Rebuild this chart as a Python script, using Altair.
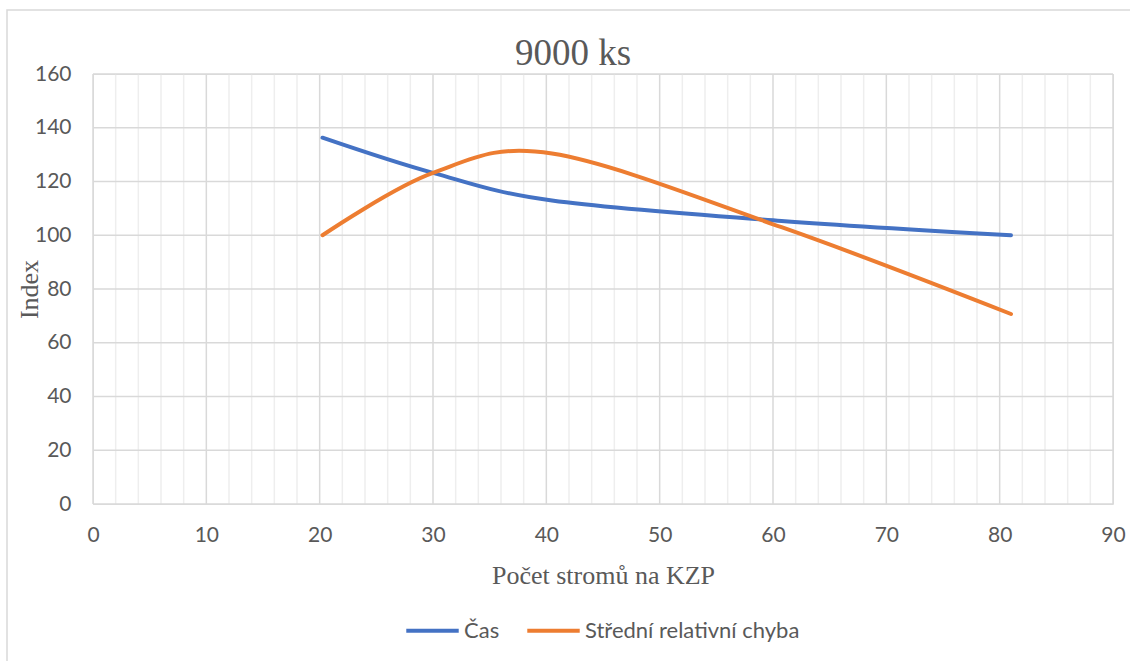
import altair as alt
import pandas as pd

# Number of trees per plot (x) and the two index series
x_trees = [20.25, 30, 40.5, 60.75, 81]
cas = [136.3, 123.2, 112.9, 105.3, 100.0]
chyba = [100.0, 123.2, 130.4, 103.0, 70.7]

series_names = ["Čas", "Střední relativní chyba"]
series_colors = ["#4472C4", "#ED7D31"]

x_major = list(range(0, 91, 10))
x_minor = [v for v in range(0, 91, 2) if v % 10 != 0]
y_major = list(range(0, 161, 20))

rows = []
for name, vals in zip(series_names, [cas, chyba]):
    for xv, yv in zip(x_trees, vals):
        rows.append({"x": xv, "y": yv, "serie": name})
df = pd.DataFrame(rows)

W, H = 1020, 430
GREY = "#595959"
SANS = "Lato"
SERIF = "Liberation Serif"

xs = alt.Scale(domain=[0, 90], nice=False, zero=False)
ys = alt.Scale(domain=[0, 160], nice=False)

x_axis = alt.Axis(
    values=x_major, grid=False, domain=False, ticks=False, tickSize=0,
    labelFlush=False, labelPadding=20, labelFont=SANS, labelFontSize=21,
    labelColor=GREY,
    title="Počet stromů na KZP", titleFont=SERIF, titleFontSize=26,
    titleFontWeight="normal", titleColor=GREY, titleX=510, titleY=79,
    titleAlign="center", titleBaseline="alphabetic",
)
y_axis = alt.Axis(
    values=y_major, grid=False, domain=False, ticks=False, tickSize=0,
    labelFlush=False, labelPadding=22, labelFont=SANS, labelFontSize=21,
    labelColor=GREY,
    title="Index", titleFont=SERIF, titleFontSize=26,
    titleFontWeight="normal", titleColor=GREY, titleX=-56, titleY=215,
    titleAlign="center", titleBaseline="alphabetic", titleAngle=270,
)

# outer chart frame
frame = alt.Chart(pd.DataFrame({"a": [0]})).mark_rect(
    fill=None, stroke="#d9d9d9", strokeWidth=1.5, clip=False
).encode(
    x=alt.value(-86), x2=alt.value(1140), y=alt.value(-64), y2=alt.value(700)
)

# chart title
title = alt.Chart(pd.DataFrame({"t": ["9000 ks"]})).mark_text(
    font=SERIF, fontSize=37, color=GREY, align="center", baseline="alphabetic"
).encode(text="t:N", x=alt.value(480), y=alt.value(-9))

minor = alt.Chart(pd.DataFrame({"x": x_minor})).mark_rule(
    color="#eeeeee", strokeWidth=1.5
).encode(x=alt.X("x:Q", scale=xs, axis=x_axis))

vmajor = alt.Chart(pd.DataFrame({"x": x_major})).mark_rule(
    color="#d9d9d9", strokeWidth=1.5
).encode(x=alt.X("x:Q", scale=xs, axis=x_axis))

hmajor = alt.Chart(pd.DataFrame({"y": y_major})).mark_rule(
    color="#d9d9d9", strokeWidth=1.5
).encode(y=alt.Y("y:Q", scale=ys, axis=y_axis))

lines = alt.Chart(df).mark_line(
    interpolate="cardinal", tension=0, strokeWidth=4, strokeCap="round"
).encode(
    x=alt.X("x:Q", scale=xs, axis=x_axis),
    y=alt.Y("y:Q", scale=ys, axis=y_axis),
    color=alt.Color(
        "serie:N",
        scale=alt.Scale(domain=series_names, range=series_colors),
        legend=alt.Legend(
            title=None, orient="none", direction="horizontal",
            legendX=311, legendY=528, padding=0,
            symbolType="stroke", symbolSize=2750, symbolStrokeWidth=4,
            labelFont=SANS, labelFontSize=22, labelColor=GREY, labelLimit=0,
            labelOffset=3, columnPadding=19,
        ),
    ),
)

chart = alt.layer(frame, title, minor, vmajor, hmajor, lines).properties(
    width=W, height=H,
    autosize=alt.AutoSizeParams(type="none"),
    padding={"left": 93, "top": 74, "right": 17, "bottom": 157},
).configure_view(stroke=None).configure(background="white")

chart.save("out.html", embed_options={"renderer": "svg", "actions": False})
